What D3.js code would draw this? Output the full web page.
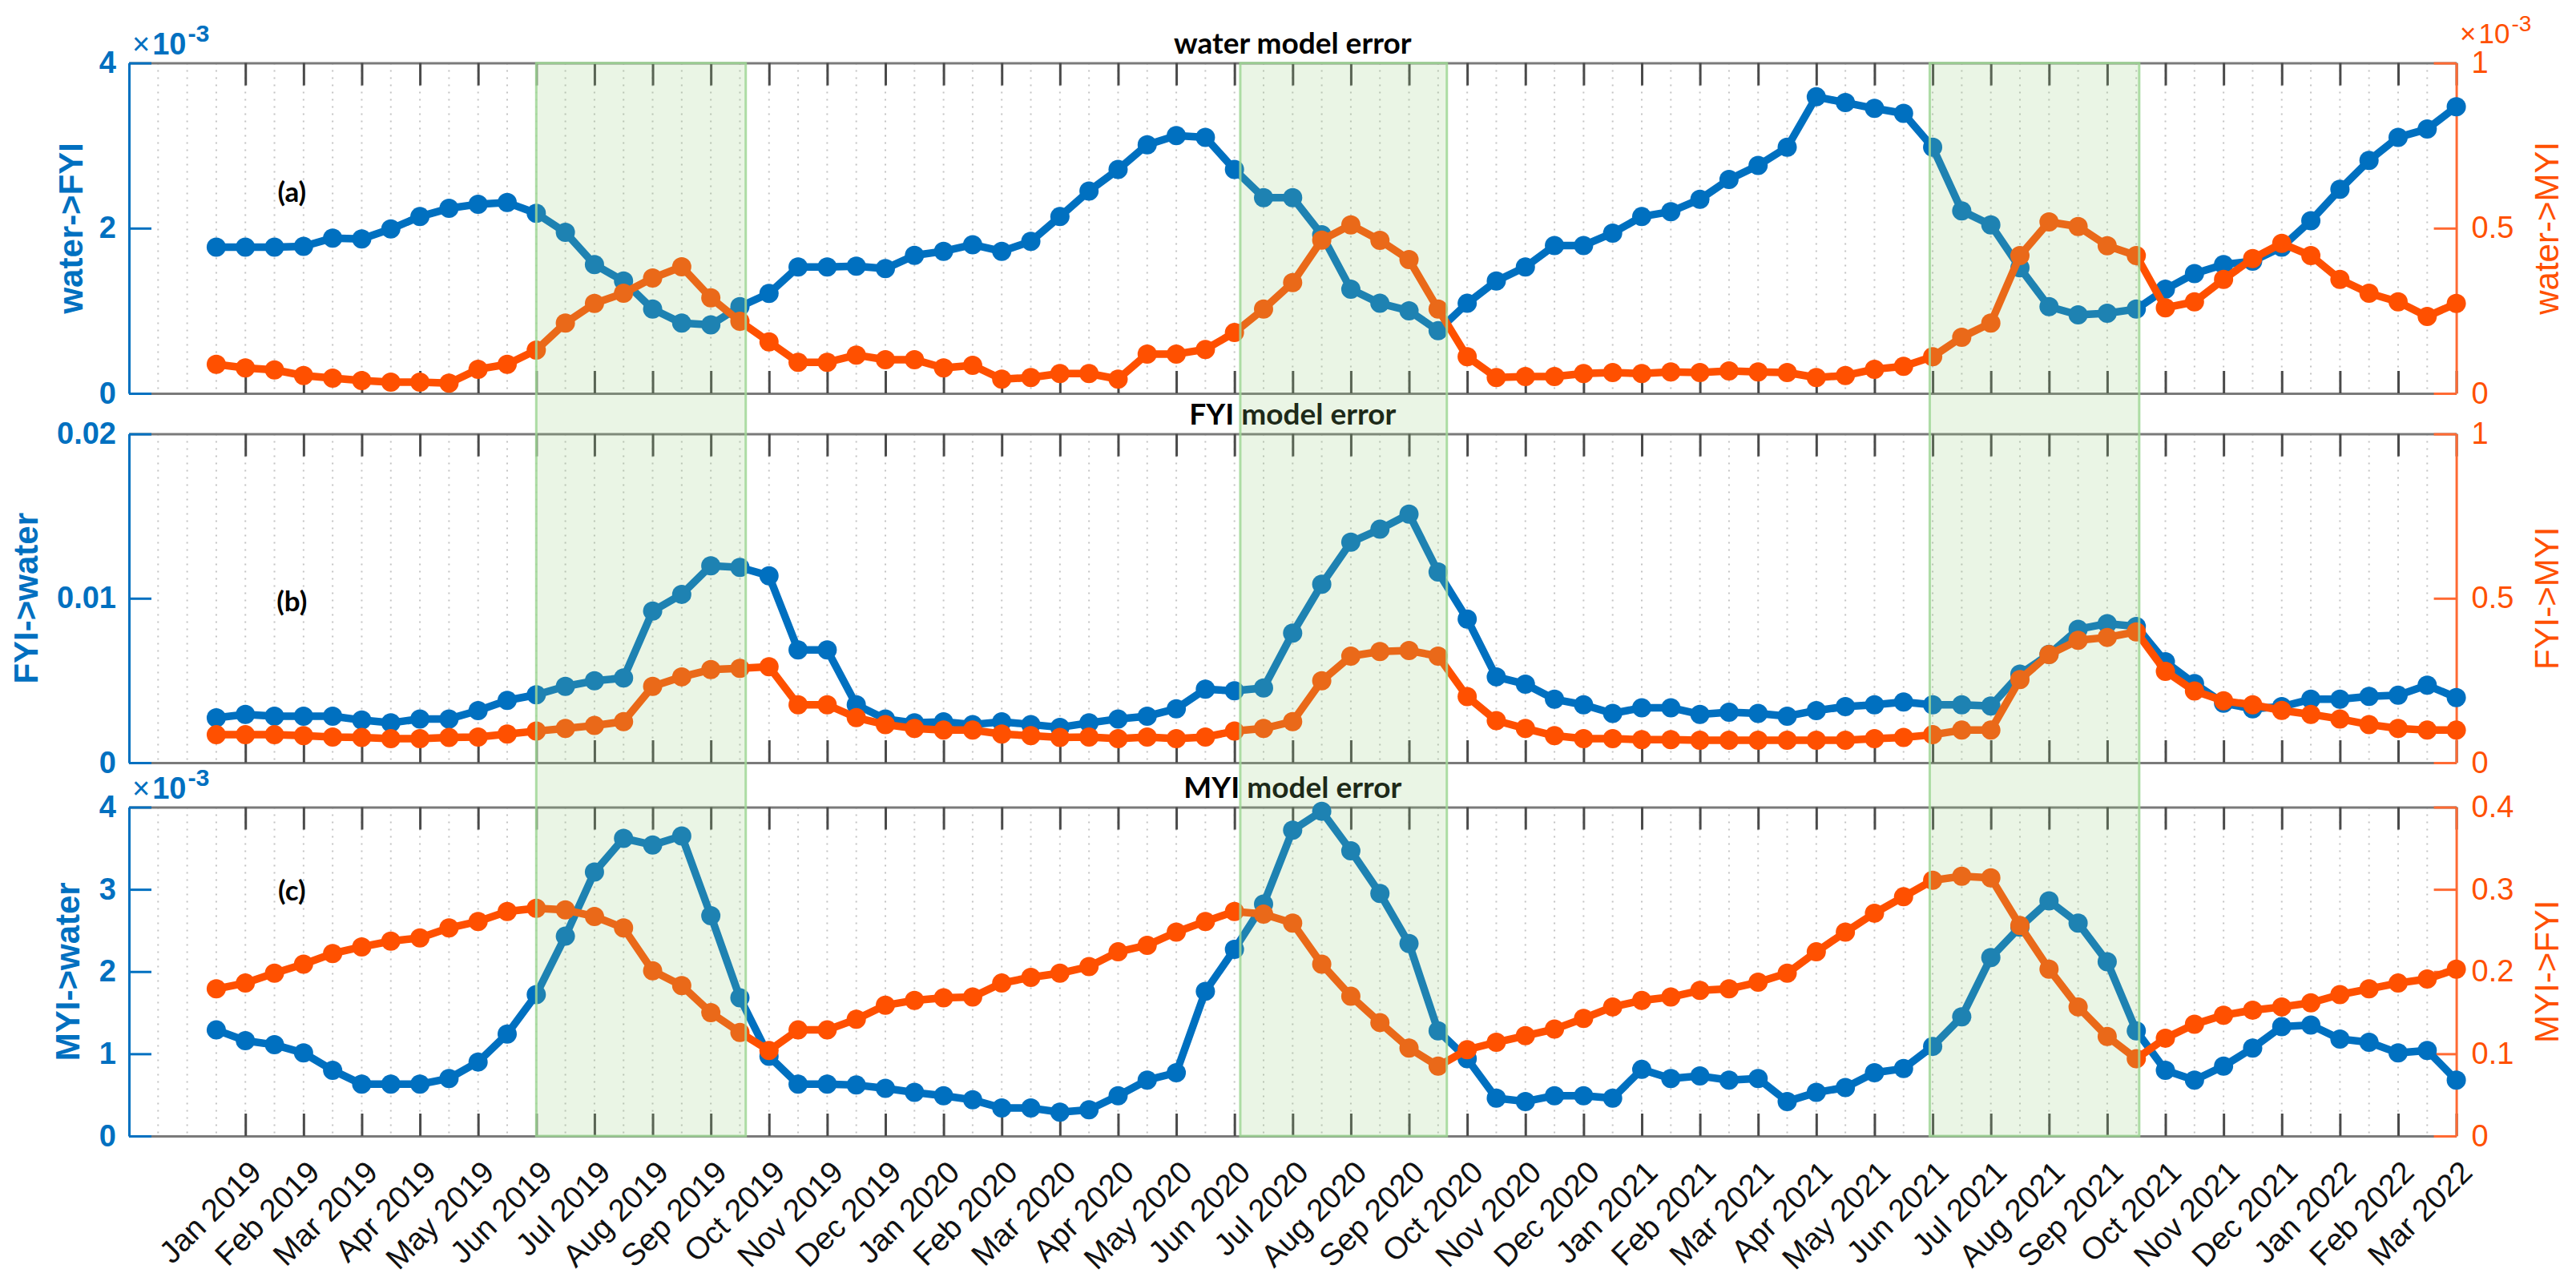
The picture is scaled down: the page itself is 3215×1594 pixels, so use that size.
<!DOCTYPE html>
<html>
<head>
<meta charset="utf-8">
<script src="https://cdn.jsdelivr.net/npm/d3@7"></script>
<style>
  body { margin: 0; background: #fff; }
</style>
</head>
<body>
<div id="chart"></div>
<script>
// month tick labels (one tick every two samples)
let monthLabels = [
    'Jan 2019', 'Feb 2019', 'Mar 2019', 'Apr 2019', 'May 2019', 'Jun 2019',
    'Jul 2019', 'Aug 2019', 'Sep 2019', 'Oct 2019', 'Nov 2019', 'Dec 2019',
    'Jan 2020', 'Feb 2020', 'Mar 2020', 'Apr 2020', 'May 2020', 'Jun 2020',
    'Jul 2020', 'Aug 2020', 'Sep 2020', 'Oct 2020', 'Nov 2020', 'Dec 2020',
    'Jan 2021', 'Feb 2021', 'Mar 2021', 'Apr 2021', 'May 2021', 'Jun 2021',
    'Jul 2021', 'Aug 2021', 'Sep 2021', 'Oct 2021', 'Nov 2021', 'Dec 2021',
    'Jan 2022', 'Feb 2022', 'Mar 2022'
];

// (a) water model error, left axis x1e-3
let waterToFYI = [
    1.77, 1.77, 1.77, 1.78, 1.88, 1.87, 1.99, 2.14, 2.24, 2.29, 2.31, 2.18, 1.95,
    1.56, 1.36, 1.02, 0.85, 0.83, 1.05, 1.21, 1.53, 1.53, 1.54, 1.51, 1.67, 1.72,
    1.80, 1.72, 1.84, 2.14, 2.45, 2.71, 3.01, 3.12, 3.10, 2.71, 2.37, 2.37, 1.92,
    1.26, 1.09, 1.00, 0.76, 1.09, 1.36, 1.53, 1.79, 1.79, 1.94, 2.14, 2.20, 2.35,
    2.59, 2.76, 2.98, 3.59, 3.52, 3.45, 3.39, 2.98, 2.21, 2.04, 1.52, 1.05, 0.95,
    0.97, 1.02, 1.26, 1.45, 1.56, 1.60, 1.77, 2.09, 2.47, 2.82, 3.10, 3.20, 3.47
];
// (a) right axis x1e-3
let waterToMYI = [
    0.088, 0.077, 0.071, 0.054, 0.046, 0.039, 0.034, 0.034, 0.031, 0.073, 0.088, 0.131, 0.213,
    0.272, 0.303, 0.349, 0.383, 0.289, 0.218, 0.156, 0.094, 0.094, 0.116, 0.102, 0.102, 0.077,
    0.085, 0.043, 0.048, 0.060, 0.060, 0.043, 0.119, 0.119, 0.133, 0.184, 0.255, 0.335, 0.464,
    0.510, 0.463, 0.405, 0.255, 0.111, 0.048, 0.051, 0.051, 0.060, 0.063, 0.060, 0.065, 0.063,
    0.068, 0.065, 0.063, 0.048, 0.054, 0.073, 0.082, 0.111, 0.170, 0.213, 0.417, 0.519, 0.505,
    0.447, 0.417, 0.259, 0.277, 0.345, 0.408, 0.454, 0.417, 0.345, 0.303, 0.277, 0.233, 0.272
];

// (b) FYI model error
let fyiToWater = [
    0.00273, 0.00294, 0.00283, 0.00283, 0.00283, 0.00259, 0.00242, 0.00266, 0.00266, 0.00317,
    0.00379, 0.00413, 0.00464, 0.00498, 0.00515, 0.00922, 0.01024, 0.01198, 0.01188, 0.01137,
    0.00686, 0.00686, 0.00352, 0.00266, 0.00242, 0.00249, 0.00232, 0.00249, 0.00232, 0.00215,
    0.00242, 0.00266, 0.00283, 0.00328, 0.00447, 0.00437, 0.00454, 0.00788, 0.01085, 0.01341,
    0.01420, 0.01512, 0.01160, 0.00874, 0.00522, 0.00478, 0.00386, 0.00352, 0.00300, 0.00334,
    0.00334, 0.00294, 0.00307, 0.00300, 0.00283, 0.00317, 0.00341, 0.00352, 0.00369, 0.00352,
    0.00352, 0.00345, 0.00539, 0.00659, 0.00812, 0.00846, 0.00829, 0.00614, 0.00481, 0.00362,
    0.00328, 0.00341, 0.00386, 0.00386, 0.00403, 0.00410, 0.00471, 0.00396
];
let fyiToMYI = [
    0.085, 0.085, 0.085, 0.082, 0.078, 0.077, 0.073, 0.073, 0.077, 0.078, 0.087, 0.096, 0.104,
    0.113, 0.125, 0.232, 0.261, 0.283, 0.287, 0.292, 0.176, 0.176, 0.137, 0.116, 0.104, 0.099,
    0.099, 0.087, 0.082, 0.077, 0.078, 0.073, 0.078, 0.073, 0.078, 0.096, 0.104, 0.125, 0.249,
    0.324, 0.338, 0.341, 0.324, 0.201, 0.128, 0.104, 0.082, 0.073, 0.073, 0.070, 0.070, 0.068,
    0.068, 0.068, 0.068, 0.068, 0.068, 0.073, 0.077, 0.085, 0.099, 0.099, 0.253, 0.329, 0.372,
    0.381, 0.398, 0.278, 0.218, 0.188, 0.176, 0.159, 0.147, 0.133, 0.116, 0.104, 0.099, 0.099
];

// (c) MYI model error, left axis x1e-3
let myiToWater = [
    1.29, 1.16, 1.11, 1.01, 0.80, 0.63, 0.63, 0.63, 0.70, 0.90, 1.24, 1.72, 2.43,
    3.21, 3.62, 3.54, 3.65, 2.68, 1.68, 0.97, 0.63, 0.63, 0.62, 0.58, 0.53, 0.49,
    0.44, 0.34, 0.34, 0.29, 0.32, 0.49, 0.68, 0.77, 1.76, 2.27, 2.82, 3.72, 3.95,
    3.47, 2.95, 2.34, 1.28, 0.94, 0.46, 0.42, 0.49, 0.49, 0.46, 0.81, 0.70, 0.73,
    0.68, 0.70, 0.42, 0.53, 0.59, 0.77, 0.82, 1.09, 1.45, 2.17, 2.54, 2.86, 2.59,
    2.12, 1.28, 0.80, 0.68, 0.85, 1.07, 1.33, 1.35, 1.18, 1.14, 1.01, 1.04, 0.68
];
let myiToFYI = [
    0.179, 0.186, 0.198, 0.209, 0.222, 0.230, 0.237, 0.241, 0.253, 0.261, 0.273, 0.277, 0.275,
    0.267, 0.253, 0.201, 0.183, 0.150, 0.126, 0.104, 0.129, 0.129, 0.142, 0.159, 0.165, 0.168,
    0.169, 0.186, 0.193, 0.198, 0.206, 0.224, 0.232, 0.248, 0.261, 0.273, 0.270, 0.259, 0.209,
    0.170, 0.138, 0.107, 0.085, 0.105, 0.114, 0.122, 0.130, 0.143, 0.157, 0.165, 0.169, 0.177,
    0.179, 0.187, 0.198, 0.224, 0.248, 0.271, 0.291, 0.311, 0.316, 0.314, 0.256, 0.203, 0.157,
    0.121, 0.094, 0.119, 0.136, 0.147, 0.153, 0.157, 0.162, 0.172, 0.179, 0.186, 0.191, 0.203
];

// summer windows, in sample units
let shadeStart = [11.0, 35.2, 58.9];
let shadeEnd = [18.2, 42.3, 66.1];

let BLUE = '#0070c0';
let ORANGE = '#ff5000';
let AXIS_FONT = '"Liberation Sans", Arial, sans-serif';
let TITLE_FONT = 'Lato, "Open Sans", sans-serif';

let panels = [
    {top: 78.6, bottom: 491, title: 'water model error', tag: '(a)', tagY: 2.45,
     left: waterToFYI, leftDomain: [0, 4], leftTicks: [0, 2, 4], leftLabel: 'water->FYI', leftLabelX: 88, leftExp: true,
     right: waterToMYI, rightDomain: [0, 1], rightTicks: [0, 0.5, 1], rightLabel: 'water->MYI', rightExp: true},
    {top: 541.6, bottom: 952, title: 'FYI model error', tag: '(b)', tagY: 0.0099,
     left: fyiToWater, leftDomain: [0, 0.02], leftTicks: [0, 0.01, 0.02], leftLabel: 'FYI->water', leftLabelX: 32, leftExp: false,
     right: fyiToMYI, rightDomain: [0, 1], rightTicks: [0, 0.5, 1], rightLabel: 'FYI->MYI', rightExp: false},
    {top: 1007.5, bottom: 1418, title: 'MYI model error', tag: '(c)', tagY: 3.0,
     left: myiToWater, leftDomain: [0, 4], leftTicks: [0, 1, 2, 3, 4], leftLabel: 'MYI->water', leftLabelX: 84, leftExp: true,
     right: myiToFYI, rightDomain: [0, 0.4], rightTicks: [0, 0.1, 0.2, 0.3, 0.4], rightLabel: 'MYI->FYI', rightExp: false}
];

let width = 3215, height = 1594;
let plotLeft = 161, plotRight = 3065.6;
let x = d3.scaleLinear().domain([-3, 77]).range([plotLeft, plotRight]);
let monthIdx = monthLabels.map(function(d, k) { return 1 + 2 * k; });

let svg = d3.select('#chart')
  .append('svg')
    .attr('width', width)
    .attr('height', height)
    .style('background', '#fff');

let expLabel = function(g, xPos, yPos, color, size, weight) {
    /**
     * MATLAB style "x10^-3" multiplier above an axis.
     */
    let t = g.append('text')
        .attr('x', xPos).attr('y', yPos)
        .attr('fill', color)
        .style('font-family', AXIS_FONT)
        .style('font-size', size + 'px')
        .style('font-weight', weight);
    t.append('tspan').style('font-weight', 'normal').text('\u00d7');
    t.append('tspan').attr('dx', 3).text('10');
    t.append('tspan').attr('dy', -size * 0.42).attr('dx', 2).style('font-size', (size * 0.8) + 'px').text('-3');
};

let drawPanel = function(p, isLast) {
    let g = svg.append('g');
    let yL = d3.scaleLinear().domain(p.leftDomain).range([p.bottom, p.top]);
    let yR = d3.scaleLinear().domain(p.rightDomain).range([p.bottom, p.top]);

    // dotted grid at each half month
    g.append('g').selectAll('line')
      .data(d3.range(-2, 77))
      .enter()
      .append('line')
        .attr('x1', function(d) { return x(d); })
        .attr('x2', function(d) { return x(d); })
        .attr('y1', p.top)
        .attr('y2', p.bottom)
        .attr('stroke', '#c4c4c4')
        .attr('stroke-width', 2)
        .attr('stroke-dasharray', '2,7');

    // top and bottom box with month ticks pointing inward
    let top = g.append('g')
        .attr('transform', 'translate(0,' + p.top + ')')
        .call(d3.axisTop(x).tickValues(monthIdx).tickSize(-28).tickSizeOuter(0).tickFormat(''));
    let bottom = g.append('g')
        .attr('transform', 'translate(0,' + p.bottom + ')')
        .call(d3.axisBottom(x).tickValues(monthIdx).tickSize(-28).tickSizeOuter(0)
            .tickFormat(function(d, k) { return isLast ? monthLabels[k] : ''; }));
    [top, bottom].forEach(function(a) {
        a.select('.domain').attr('stroke', '#7a7a7a').attr('stroke-width', 3);
        a.selectAll('.tick line').attr('stroke', '#4a4a4a').attr('stroke-width', 3);
    });
    bottom.selectAll('text')
        .attr('x', 0).attr('y', 0).attr('dy', '0.35em')
        .attr('transform', 'translate(12,38)rotate(-45)')
        .style('text-anchor', 'end')
        .style('font-family', AXIS_FONT)
        .style('font-size', '39px')
        .attr('fill', '#111');

    // left axis
    let la = g.append('g')
        .attr('transform', 'translate(' + plotLeft + ',0)')
        .call(d3.axisLeft(yL).tickValues(p.leftTicks).tickSize(-28).tickSizeOuter(0).tickPadding(16)
            .tickFormat(function(d) { return String(d); }));
    la.select('.domain').attr('stroke', BLUE).attr('stroke-width', 3);
    la.selectAll('.tick line').attr('stroke', BLUE).attr('stroke-width', 3);
    la.selectAll('text')
        .attr('fill', BLUE)
        .style('font-family', AXIS_FONT)
        .style('font-size', '38px')
        .style('font-weight', 'bold');

    // right axis
    let ra = g.append('g')
        .attr('transform', 'translate(' + plotRight + ',0)')
        .call(d3.axisRight(yR).tickValues(p.rightTicks).tickSize(-28).tickSizeOuter(0).tickPadding(19)
            .tickFormat(function(d) { return String(d); }));
    ra.select('.domain').attr('stroke', '#ff6a33').attr('stroke-width', 3);
    ra.selectAll('.tick line').attr('stroke', '#ff6a33').attr('stroke-width', 3);
    ra.selectAll('text')
        .attr('fill', ORANGE)
        .style('font-family', AXIS_FONT)
        .style('font-size', '38px');

    // axis labels
    g.append('text')
        .attr('transform', 'translate(' + p.leftLabelX + ',' + (p.top + p.bottom) / 2 + ')rotate(-90)')
        .attr('text-anchor', 'middle')
        .attr('dominant-baseline', 'central')
        .attr('fill', BLUE)
        .style('font-family', AXIS_FONT)
        .style('font-size', '42px')
        .style('font-weight', 'bold')
        .text(p.leftLabel);
    g.append('text')
        .attr('transform', 'translate(3178,' + (p.top + p.bottom) / 2 + ')rotate(-90)')
        .attr('text-anchor', 'middle')
        .attr('dominant-baseline', 'central')
        .attr('fill', ORANGE)
        .style('font-family', AXIS_FONT)
        .style('font-size', '42px')
        .text(p.rightLabel);

    if (p.leftExp) { expLabel(g, 165, p.top - 11, BLUE, 38, 'bold'); }
    if (p.rightExp) { expLabel(g, 3070, p.top - 25, ORANGE, 35, 'normal'); }

    // the two series, right axis drawn on top
    [[p.left, yL, BLUE], [p.right, yR, ORANGE]].forEach(function(s) {
        let line = d3.line()
            .x(function(d, i) { return x(i); })
            .y(function(d) { return s[1](d); });
        g.append('path')
            .datum(s[0])
            .attr('d', line)
            .attr('fill', 'none')
            .attr('stroke', s[2])
            .attr('stroke-width', 9.5)
            .attr('stroke-linejoin', 'round');
        g.append('g').selectAll('circle')
          .data(s[0])
          .enter()
          .append('circle')
            .attr('cx', function(d, i) { return x(i); })
            .attr('cy', function(d) { return s[1](d); })
            .attr('r', 12)
            .attr('fill', s[2]);
    });

    // title and panel tag
    g.append('text')
        .attr('x', (plotLeft + plotRight) / 2)
        .attr('y', p.top - 12)
        .attr('text-anchor', 'middle')
        .attr('fill', '#000')
        .style('font-family', TITLE_FONT)
        .style('font-size', '37px')
        .style('font-weight', 'bold')
        .text(p.title);
    g.append('text')
        .attr('x', x(2.6))
        .attr('y', yL(p.tagY))
        .attr('text-anchor', 'middle')
        .attr('dominant-baseline', 'central')
        .attr('fill', '#000')
        .style('font-family', TITLE_FONT)
        .style('font-size', '35px')
        .style('font-weight', 'bold')
        .text(p.tag);
};

panels.forEach(function(p, k) { drawPanel(p, k === panels.length - 1); });

// summer shading spanning all three panels
svg.append('g').selectAll('rect')
  .data(shadeStart)
  .enter()
  .append('rect')
    .attr('x', function(d) { return x(d); })
    .attr('width', function(d, i) { return x(shadeEnd[i]) - x(d); })
    .attr('y', panels[0].top)
    .attr('height', panels[2].bottom - panels[0].top)
    .attr('fill', 'rgb(150,205,125)')
    .attr('fill-opacity', 0.2)
    .attr('stroke', 'rgb(160,215,150)')
    .attr('stroke-opacity', 0.85)
    .attr('stroke-width', 3);
</script>
</body>
</html>
